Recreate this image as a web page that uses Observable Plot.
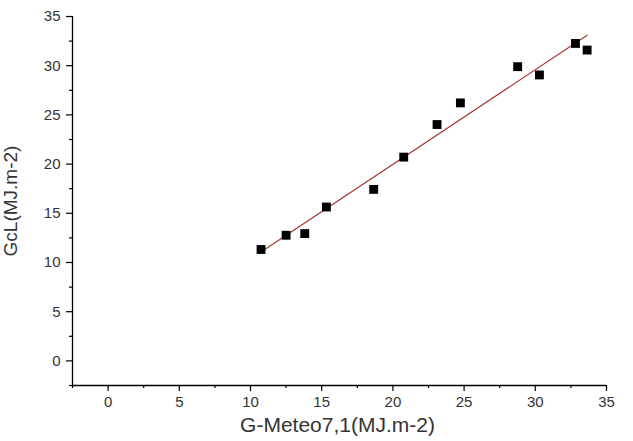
<!DOCTYPE html>
<html>
<head>
<meta charset="utf-8">
<script src="https://cdn.jsdelivr.net/npm/d3@7"></script>
<script src="https://cdn.jsdelivr.net/npm/@observablehq/plot@0.6"></script>
<style>
  html, body { margin: 0; padding: 0; background: #fff; }
  #chart svg { display: block; }
</style>
</head>
<body>
<div id="chart"></div>
<script>
// Data
const gMeteo = [10.74, 12.50, 13.81, 15.33, 18.65, 20.76, 23.10, 24.74, 28.76, 30.29, 32.82, 33.64];
const gcl    = [11.32, 12.77, 12.94, 15.64, 17.43, 20.71, 24.02, 26.22, 29.90, 29.06, 32.26, 31.59];
const majorTicks = [0, 5, 10, 15, 20, 25, 30, 35];
const minorTicks = [-2.5, 2.5, 7.5, 12.5, 17.5, 22.5, 27.5, 32.5];
const xDomain = [-2.5, 35];
const yDomain = [-2.5, 35];
const xLabel = "G-Meteo7,1(MJ.m-2)";
const yLabel = "GcL(MJ.m-2)";

const data = gMeteo.map((x, i) => ({x, y: gcl[i]}));

const chart = Plot.plot({
  width: 633,
  height: 441,
  marginLeft: 72,
  marginRight: 27,
  marginTop: 16,
  marginBottom: 56,
  style: {fontFamily: "Liberation Sans, Arial, sans-serif", background: "#fff"},
  x: {domain: xDomain, label: null},
  y: {domain: yDomain, label: null},
  marks: [
    // axis lines
    Plot.ruleX([xDomain[0]], {y1: yDomain[0], y2: yDomain[1], stroke: "#000", strokeWidth: 1.3}),
    Plot.ruleY([yDomain[0]], {x1: xDomain[0], x2: xDomain[1], stroke: "#000", strokeWidth: 1.3}),
    // major ticks
    Plot.axisX({ticks: majorTicks, tickSize: 6, tickPadding: 5, fontSize: 15, stroke: "#000", strokeWidth: 1.2, fill: "#333", tickFormat: d3.format("d"), label: null}),
    Plot.axisY({ticks: majorTicks, tickSize: 6, tickPadding: 6, fontSize: 15, stroke: "#000", strokeWidth: 1.2, fill: "#333", tickFormat: d3.format("d"), label: null}),
    // minor ticks
    Plot.axisX({ticks: minorTicks, tickSize: 3, tickFormat: () => "", stroke: "#000", strokeWidth: 1.2, label: null}),
    Plot.axisY({ticks: minorTicks, tickSize: 3, tickFormat: () => "", stroke: "#000", strokeWidth: 1.2, label: null}),
    // axis titles
    Plot.text([xLabel], {frameAnchor: "bottom", dy: 46, dx: -2, fontSize: 21, fill: "#333", text: d => d}),
    Plot.text([yLabel], {frameAnchor: "left", textAnchor: "middle", lineAnchor: "middle", dx: -62, rotate: -90, fontSize: 19, fill: "#333", text: d => d}),
    // regression line
    Plot.linearRegressionY(data, {x: "x", y: "y", stroke: "#a8302c", strokeWidth: 1.1, ci: 0}),
    // points
    Plot.dot(data, {x: "x", y: "y", symbol: "square", r: 5, fill: "#000", stroke: "none"})
  ]
});
document.getElementById("chart").appendChild(chart);
</script>
</body>
</html>
